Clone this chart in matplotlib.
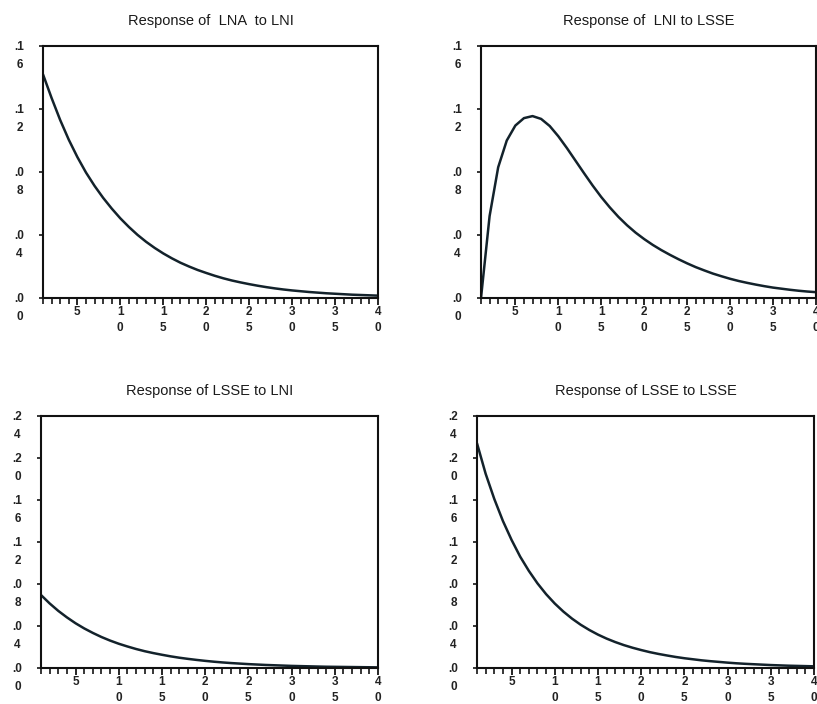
import matplotlib
matplotlib.use("Agg")
import matplotlib.pyplot as plt
import matplotlib.transforms as mtransforms
from matplotlib.ticker import FixedLocator

# impulse responses, periods 1..40
periods = list(range(1, 41))

lna_to_lni = [0.142, 0.127, 0.113, 0.1005, 0.0895, 0.0797, 0.0712, 0.0636, 0.0568, 0.0506,
              0.0451, 0.0401, 0.0357, 0.0318, 0.0283, 0.0252, 0.0224, 0.0200, 0.0178, 0.0159,
              0.0141, 0.0125, 0.0111, 0.0099, 0.0088, 0.0078, 0.0069, 0.0061, 0.0054, 0.0048,
              0.0043, 0.0038, 0.0034, 0.0030, 0.0027, 0.0024, 0.0021, 0.0019, 0.0017, 0.0015]

lni_to_lsse = [0.0, 0.052, 0.083, 0.100, 0.1095, 0.1142, 0.1155, 0.1137, 0.1092, 0.1027,
               0.0952, 0.0872, 0.0792, 0.0714, 0.0641, 0.0575, 0.0515, 0.0462, 0.0415, 0.0374,
               0.0337, 0.0304, 0.0274, 0.0246, 0.0220, 0.0196, 0.0175, 0.0155, 0.0138, 0.0122,
               0.0108, 0.0096, 0.0085, 0.0075, 0.0066, 0.0059, 0.0052, 0.0046, 0.0041, 0.0037]

lsse_to_lni = [0.0695, 0.0615, 0.0544, 0.0482, 0.0426, 0.0377, 0.0334, 0.0295, 0.0261, 0.0231,
               0.0205, 0.0181, 0.0160, 0.0142, 0.0126, 0.0111, 0.0098, 0.0087, 0.0077, 0.0068,
               0.0060, 0.0053, 0.0047, 0.0042, 0.0037, 0.0033, 0.0029, 0.0026, 0.0023, 0.0020,
               0.0018, 0.0016, 0.0014, 0.0012, 0.0011, 0.0010, 0.0009, 0.0008, 0.0007, 0.0006]

lsse_to_lsse = [0.214, 0.185, 0.161, 0.140, 0.122, 0.106, 0.0925, 0.0806, 0.0703, 0.0614,
                0.0537, 0.0470, 0.0412, 0.0362, 0.0318, 0.0280, 0.0247, 0.0218, 0.0193, 0.0171,
                0.0151, 0.0134, 0.0119, 0.0105, 0.0093, 0.0083, 0.0073, 0.0065, 0.0058, 0.0051,
                0.0045, 0.0040, 0.0036, 0.0032, 0.0028, 0.0025, 0.0022, 0.0020, 0.0018, 0.0016]

titles = ["Response of  LNA  to LNI", "Response of  LNI to LSSE",
          "Response of LSSE to LNI", "Response of LSSE to LSSE"]

x_ticks = [5, 10, 15, 20, 25, 30, 35, 40]
x_tick_labels = ["5", "1\n0", "1\n5", "2\n0", "2\n5", "3\n0", "3\n5", "4\n0"]

top_y_ticks = [0.0, 0.04, 0.08, 0.12, 0.16]
top_y_labels = [".0\n0", ".0\n4", ".0\n8", ".1\n2", ".1\n6"]
bottom_y_ticks = [0.0, 0.04, 0.08, 0.12, 0.16, 0.20, 0.24]
bottom_y_labels = [".0\n0", ".0\n4", ".0\n8", ".1\n2", ".1\n6", ".2\n0", ".2\n4"]

plt.rcParams['font.family'] = ['Liberation Sans', 'DejaVu Sans']

W, H = 817, 704
fig = plt.figure(figsize=(W / 100, H / 100), dpi=100)
fig.patch.set_facecolor("white")

LINE = "#13222b"


def px_rect(left, top, right, bottom):
    return [left / W, 1 - bottom / H, (right - left) / W, (bottom - top) / H]


def draw_panel(rect, values, title, yticks, ylabels):
    ax = fig.add_axes(rect)
    ax.plot(periods, values, color=LINE, lw=1.8, solid_joinstyle="round",
            solid_capstyle="round")
    ax.set_xlim(1, 40)
    ax.set_ylim(yticks[0], yticks[-1])
    for s in ax.spines.values():
        s.set_linewidth(1.5)
        s.set_color("#111111")

    ax.set_xticks(x_ticks)
    ax.set_xticklabels(x_tick_labels, fontsize=8.5, fontweight="bold", linespacing=1.5,
                       color="#222222")
    ax.xaxis.set_minor_locator(FixedLocator([p for p in periods if p not in x_ticks]))
    ax.tick_params(axis="x", which="major", direction="out", length=5, width=1.2, pad=0.5)
    ax.tick_params(axis="x", which="minor", direction="out", length=4, width=1.1)

    ax.set_yticks(yticks)
    ax.set_yticklabels(ylabels, fontsize=8.5, fontweight="bold", linespacing=1.6,
                       multialignment="center", color="#222222")
    ax.tick_params(axis="y", direction="out", length=3, width=1.1, pad=14)
    shift = mtransforms.ScaledTranslation(0, 3.5 / 72, fig.dpi_scale_trans)
    for lab in ax.get_yticklabels():
        lab.set_verticalalignment("top")
        lab.set_horizontalalignment("center")
        lab.set_transform(lab.get_transform() + shift)

    ax.set_title(title, fontsize=10.5, pad=15, color="#1a1a1a")
    return ax


draw_panel(px_rect(43, 46, 378, 298), lna_to_lni, titles[0], top_y_ticks, top_y_labels)
draw_panel(px_rect(481, 46, 816, 298), lni_to_lsse, titles[1], top_y_ticks, top_y_labels)
draw_panel(px_rect(41, 416, 378, 668), lsse_to_lni, titles[2], bottom_y_ticks, bottom_y_labels)
draw_panel(px_rect(477, 416, 814, 668), lsse_to_lsse, titles[3], bottom_y_ticks, bottom_y_labels)

fig.savefig("out.png", dpi=100)
